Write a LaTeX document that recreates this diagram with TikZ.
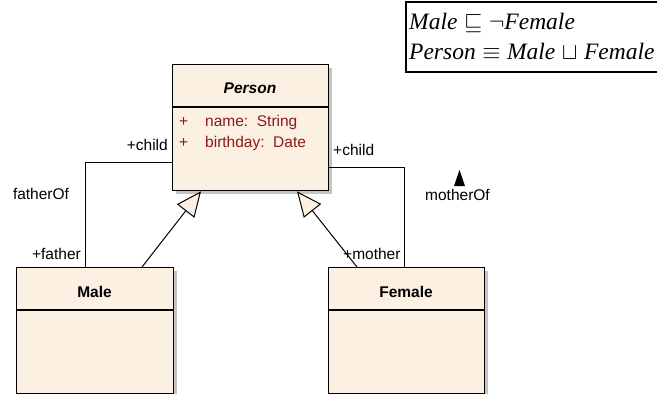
\RequirePackage{fix-cm}
\documentclass[tikz,border=0pt]{standalone}
\usepackage{fontspec}
\setmainfont{Liberation Sans}
\newfontfamily\legendfont{Liberation Serif}
\usetikzlibrary{arrows.meta,calc}

\definecolor{boxfill}{HTML}{FBF0E2}
\definecolor{attrred}{HTML}{8B1A1A}
\definecolor{shadowgray}{HTML}{C4C4C4}

\tikzset{
  umlclass/.style={draw=black, line width=1.3pt, fill=boxfill, rectangle,
    anchor=north west, inner sep=0pt},
  umlshadow/.style={fill=shadowgray, draw=none},
  assoc/.style={draw=black, line width=1pt},
  gen/.style={draw=black, line width=1pt,
    -{Triangle[length=25pt,width=22pt,fill=boxfill,line width=1pt]}},
  rolelabel/.style={font=\fontsize{15.5}{18}\selectfont, inner sep=0pt},
  classname/.style={font=\fontsize{15.5}{18}\selectfont\bfseries, inner sep=0pt},
  attr/.style={font=\fontsize{15.5}{18}\selectfont, text=attrred, inner sep=0pt, anchor=west},
}

\begin{document}
\begin{tikzpicture}[x=1pt,y=-1pt]
\useasboundingbox (0,0) rectangle (657,394);

% drop shadows of the class boxes
\fill[umlshadow] (176,68) rectangle (332,194);
\fill[umlshadow] (20,271) rectangle (177,397);
\fill[umlshadow] (332,271) rectangle (488,397);

% class boxes
\node[umlclass, minimum width=156pt, minimum height=126pt] (Person) at (172,64) {};
\node[umlclass, minimum width=157pt, minimum height=126pt] (Male) at (16,267) {};
\node[umlclass, minimum width=156pt, minimum height=126pt] (Female) at (328,267) {};

% compartment dividers
\draw[line width=1.3pt] ($(Person.north west)+(0,43)$) coordinate (pd) -- (pd -| Person.east);
\draw[line width=1.3pt] ($(Male.north west)+(0,43)$) coordinate (md) -- (md -| Male.east);
\draw[line width=1.3pt] ($(Female.north west)+(0,43)$) coordinate (fd) -- (fd -| Female.east);

% class names
\node[classname, font=\fontsize{15.5}{18}\selectfont\bfseries\itshape] (pname) at (250,88) {Person};
\node[classname] (mname) at (94.5,292) {Male};
\node[classname] (fname) at (406,292) {Female};

% attributes of Person
\node[attr] (plus1) at (179,122) {+};
\node[attr] (a1) at (205,122) {name:\ \ String};
\node[attr] (plus2) at (179,143) {+};
\node[attr] (a2) at (205,143) {birthday:\ \ Date};

% association fatherOf
\coordinate (fa) at (85,162);
\draw[assoc] (fa -| Person.west) -- (fa) -- (fa |- Male.north);
\node[rolelabel, anchor=east] (fchild) at (168,145) {+child};
\node[rolelabel] (fof) at (41,194) {fatherOf};
\node[rolelabel, anchor=east] (ffather) at (81,254) {+father};

% association motherOf
\coordinate (mo) at (404,167);
\draw[assoc] (mo -| Person.east) -- (mo) -- (mo |- Female.north);
\node[rolelabel, anchor=west] (mchild) at (333,150) {+child};
\node[rolelabel] (mof) at (457.5,195) {motherOf};
\node[rolelabel, anchor=west] (mmother) at (343,254) {+mother};
\fill[black] (454,186) -- (465,186) -- (459.5,170) -- cycle;

% generalizations
\coordinate (gm0) at (142,267);
\coordinate (gm1) at (201,190.5);
\coordinate (gf0) at (357,267);
\coordinate (gf1) at (297,190.5);
\draw[gen] (gm0 |- Male.north) -- (gm1 |- Person.south);
\draw[gen] (gf0 |- Female.north) -- (gf1 |- Person.south);

% axioms
\node[draw=black, line width=1.8pt, fill=white, anchor=north west,
      minimum width=260pt, minimum height=70pt, inner sep=0pt] (axioms) at (405,1) {};
\node[anchor=west, inner sep=0pt, align=left,
      font=\fontsize{23.5}{30}\selectfont] (axtext) at (409,36)
  {{\legendfont\itshape Male} $\sqsubseteq \neg${\legendfont\itshape Female}\\
   {\legendfont\itshape Person} $\equiv$ {\legendfont\itshape Male} $\sqcup$ {\legendfont\itshape Female}};
\end{tikzpicture}
\end{document}
